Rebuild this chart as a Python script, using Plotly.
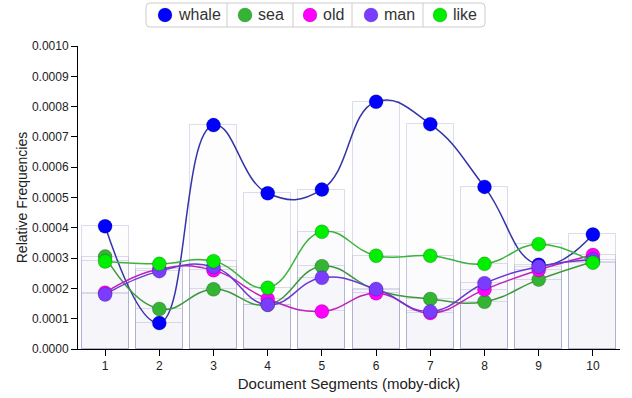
import plotly.graph_objects as go

segments = [1, 2, 3, 4, 5, 6, 7, 8, 9, 10]
whale = [0.000405, 0.000086, 0.000739, 0.000514, 0.000526, 0.000816, 0.000742, 0.000535, 0.000278, 0.000378]
sea = [0.000305, 0.000132, 0.000197, 0.000146, 0.000273, 0.000195, 0.000165, 0.000156, 0.000229, 0.000288]
old = [0.000186, 0.000264, 0.000260, 0.000165, 0.000124, 0.000184, 0.000119, 0.000196, 0.000261, 0.000310]
man = [0.000180, 0.000257, 0.000271, 0.000146, 0.000235, 0.000198, 0.000124, 0.000217, 0.000272, 0.000295]
like = [0.000289, 0.000281, 0.000290, 0.000202, 0.000387, 0.000308, 0.000308, 0.000281, 0.000346, 0.000285]

names = ["whale", "sea", "old", "man", "like"]
values = [whale, sea, old, man, like]
marker_colors = ["#0000ff", "#33b533", "#ff00ff", "#7a3cff", "#00ee00"]
line_colors = ["#3333aa", "#3c9a3c", "#c020c0", "#6a3ad0", "#3cb43c"]

W, H = 632, 398
ML, MR, MT, MB = 78, 12, 46, 49
PW, PH = W - ML - MR, H - MT - MB


def px(x):
    return (x - ML) / PW


def py(y):
    return (H - MB - y) / PH


fig = go.Figure()

for name, vals in zip(names, values):
    fig.add_trace(go.Bar(
        x=segments, y=vals, width=0.87, showlegend=False, hoverinfo="skip",
        marker=dict(color="rgba(185,188,222,0.035)",
                    line=dict(color="rgba(170,170,210,0.4)", width=1)),
    ))

for name, vals, mc, lc in zip(names, values, marker_colors, line_colors):
    fig.add_trace(go.Scatter(
        x=segments, y=vals, mode="lines+markers", name=name, showlegend=False,
        line=dict(color=lc, width=1.5, shape="spline", smoothing=1.3),
        marker=dict(color=mc, size=14, line=dict(color="rgba(0,0,0,0.2)", width=1)),
    ))

# Legend (button-group style box above the plot)
shapes = []
annotations = []
box_l, box_r, box_t, box_b, rad = 146, 485, 3, 27, 4
path = (f"M {px(box_l + rad)},{py(box_t)} L {px(box_r - rad)},{py(box_t)} "
        f"Q {px(box_r)},{py(box_t)} {px(box_r)},{py(box_t + rad)} "
        f"L {px(box_r)},{py(box_b - rad)} Q {px(box_r)},{py(box_b)} {px(box_r - rad)},{py(box_b)} "
        f"L {px(box_l + rad)},{py(box_b)} Q {px(box_l)},{py(box_b)} {px(box_l)},{py(box_b - rad)} "
        f"L {px(box_l)},{py(box_t + rad)} Q {px(box_l)},{py(box_t)} {px(box_l + rad)},{py(box_t)} Z")
shapes.append(dict(type="path", xref="paper", yref="paper", path=path,
                   line=dict(color="#cccccc", width=1), fillcolor="white", layer="above"))
for sx in [227, 293, 352, 423]:
    shapes.append(dict(type="line", xref="paper", yref="paper",
                       x0=px(sx), x1=px(sx), y0=py(box_t), y1=py(box_b),
                       line=dict(color="#cccccc", width=1), layer="above"))
circle_x = [165, 245, 310, 371, 440]
for cx, name, mc in zip(circle_x, names, marker_colors):
    shapes.append(dict(type="circle", xref="paper", yref="paper",
                       xsizemode="pixel", ysizemode="pixel",
                       xanchor=px(cx), yanchor=py(15), x0=-7, x1=7, y0=-7, y1=7,
                       fillcolor=mc, line=dict(color="rgba(0,0,0,0.15)", width=1),
                       layer="above"))
    annotations.append(dict(xref="paper", yref="paper", x=px(cx + 11), y=py(15),
                            xanchor="left", yanchor="middle", showarrow=False,
                            text=name, font=dict(size=16, color="#333")))

fig.update_layout(
    width=W, height=H,
    margin=dict(l=ML, r=MR, t=MT, b=MB),
    paper_bgcolor="white", plot_bgcolor="white",
    barmode="overlay", bargap=0, showlegend=False,
    font=dict(family="Liberation Sans, Arial, sans-serif", color="#222", size=12),
    shapes=shapes, annotations=annotations,
    xaxis=dict(range=[0.5, 10.5], tickmode="array", tickvals=segments, automargin=False,
               ticks="outside", ticklen=6, tickcolor="#000", showline=True,
               linecolor="#000", linewidth=1, showgrid=False, zeroline=False,
               title=dict(text="Document Segments (moby-dick)", font=dict(size=15), standoff=6)),
    yaxis=dict(range=[0, 0.001], dtick=0.0001, tickformat=".4f", automargin=False,
               ticks="outside", ticklen=6, tickcolor="#000", showline=True,
               linecolor="#000", linewidth=1, showgrid=False, zeroline=False,
               title=dict(text="Relative Frequencies", font=dict(size=14), standoff=0)),
)

fig.write_html("out.html")
